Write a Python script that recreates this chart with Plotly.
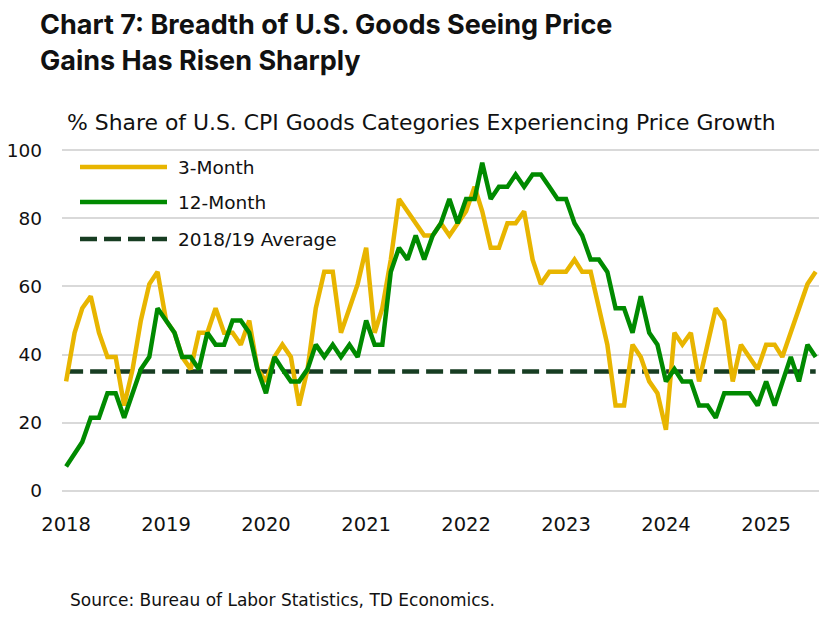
import pandas as pd
import plotly.graph_objects as go

# monthly, Jan 2018 - Jul 2025
dates = pd.date_range("2018-01-01", periods=91, freq="MS")

three_month = [
    32.1, 46.4, 53.6, 57.1, 46.4, 39.3, 39.3, 25.0, 35.7, 50.0, 60.7, 64.3,
    50.0, 46.4, 39.3, 35.7, 46.4, 46.4, 53.6, 46.4, 46.4, 42.9, 50.0, 35.7,
    32.1, 39.3, 42.9, 39.3, 25.0, 35.7, 53.6, 64.3, 64.3, 46.4, 53.6, 60.7,
    71.4, 46.4, 53.6, 67.9, 85.7, 82.1, 78.6, 75.0, 75.0, 78.6, 75.0, 78.6,
    82.1, 89.3, 82.1, 71.4, 71.4, 78.6, 78.6, 82.1, 67.9, 60.7, 64.3, 64.3,
    64.3, 67.9, 64.3, 64.3, 53.6, 42.9, 25.0, 25.0, 42.9, 39.3, 32.1, 28.6,
    17.9, 46.4, 42.9, 46.4, 32.1, 42.9, 53.6, 50.0, 32.1, 42.9, 39.3, 35.7,
    42.9, 42.9, 39.3, 46.4, 53.6, 60.7, 64.3,
]

twelve_month = [
    7.1, 10.7, 14.3, 21.4, 21.4, 28.6, 28.6, 21.4, 28.6, 35.7, 39.3, 53.6,
    50.0, 46.4, 39.3, 39.3, 35.7, 46.4, 42.9, 42.9, 50.0, 50.0, 46.4, 35.7,
    28.6, 39.3, 35.7, 32.1, 32.1, 35.7, 42.9, 39.3, 42.9, 39.3, 42.9, 39.3,
    50.0, 42.9, 42.9, 64.3, 71.4, 67.9, 75.0, 67.9, 75.0, 78.6, 85.7, 78.6,
    85.7, 85.7, 96.4, 85.7, 89.3, 89.3, 92.9, 89.3, 92.9, 92.9, 89.3, 85.7,
    85.7, 78.6, 75.0, 67.9, 67.9, 64.3, 53.6, 53.6, 46.4, 57.1, 46.4, 42.9,
    32.1, 35.7, 32.1, 32.1, 25.0, 25.0, 21.4, 28.6, 28.6, 28.6, 28.6, 25.0,
    32.1, 25.0, 32.1, 39.3, 32.1, 42.9, 39.3,
]

avg_2018_19 = 35.0

YELLOW = "#E8B500"
GREEN = "#008A00"
DARK = "#173D22"
FONT = "DejaVu Sans"
TITLE_FONT = "Inter"

fig = go.Figure()
fig.add_trace(go.Scatter(x=[dates[0], dates[-1]], y=[avg_2018_19, avg_2018_19],
                         mode="lines", line=dict(color=DARK, width=4.5, dash="17px,7px")))
fig.add_trace(go.Scatter(x=dates, y=three_month, mode="lines",
                         line=dict(color=YELLOW, width=4.5)))
fig.add_trace(go.Scatter(x=dates, y=twelve_month, mode="lines",
                         line=dict(color=GREEN, width=4.5)))

# page is drawn 8px in from the window corner; positions below are window pixels
OFF = 8
L, W, B, H = 62 - OFF, 763, 494 - OFF, 347
px = lambda x: (x - OFF - L) / W
py = lambda y: (B - (y - OFF)) / H

annotations = [
    dict(text="Chart 7: Breadth of U.S. Goods Seeing Price", x=px(38), y=py(24),
         font=dict(size=27, weight=700, family=TITLE_FONT)),
    dict(text="Gains Has Risen Sharply", x=px(38), y=py(60),
         font=dict(size=27, weight=700, family=TITLE_FONT)),
    dict(text="% Share of U.S. CPI Goods Categories Experiencing Price Growth",
         x=px(65), y=py(123), font=dict(size=21.9)),
    dict(text="Source: Bureau of Labor Statistics, TD Economics.", x=px(68), y=py(600),
         font=dict(size=17)),
]

shapes = []
legend = [("3-Month", YELLOW, "solid", 167), ("12-Month", GREEN, "solid", 202),
          ("2018/19 Average", DARK, "17px,7px", 239)]
for name, color, dash, y in legend:
    shapes.append(dict(type="line", xref="paper", yref="paper", x0=px(80), x1=px(167),
                       y0=py(y), y1=py(y), line=dict(color=color, width=4.5, dash=dash)))
    annotations.append(dict(text=name, x=px(176), y=py(y), font=dict(size=18.5)))

for a in annotations:
    a.update(xref="paper", yref="paper", xanchor="left", yanchor="middle", showarrow=False)
    a["font"].setdefault("family", FONT)
    a["font"]["color"] = "#111111"

fig.update_layout(
    width=827, height=617,
    margin=dict(l=L, r=827 - L - W, t=B - H, b=617 - B),
    plot_bgcolor="white", paper_bgcolor="white",
    showlegend=False,
    annotations=annotations, shapes=shapes,
    font=dict(family=FONT, color="#111111"),
)
fig.update_xaxes(range=["2017-12-17", "2025-08-04"], tick0="2018-01-01", dtick="M12",
                 tickformat="%Y", showgrid=False, showline=False, ticks="",
                 tickfont=dict(size=19.5), ticklabelstandoff=16, automargin=False)
fig.update_yaxes(range=[-1, 101], dtick=20, showgrid=True, gridcolor="#D9D9D9",
                 gridwidth=1.5, zeroline=False, showline=False, ticks="",
                 tickfont=dict(size=18.5), ticklabelstandoff=19, automargin=False)

fig.write_html("out.html")
